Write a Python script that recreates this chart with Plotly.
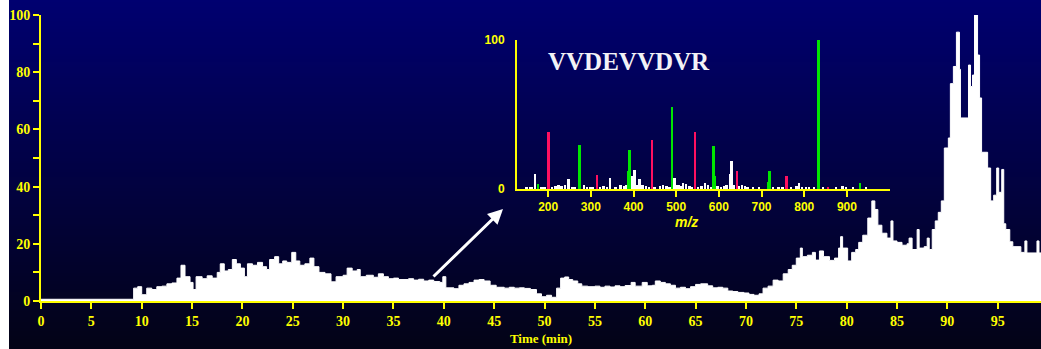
import base64
import struct
import zlib

import plotly.graph_objects as go

# ---------------- data: total ion chromatogram (step breakpoints) -------------
time_min = [0.0, 9.2, 9.6, 10.0, 10.5, 11.0, 11.5, 12.0, 12.5, 13.0, 13.5, 13.9, 14.3, 14.8,
            15.1, 15.4, 16.0, 16.5, 17.0, 17.5, 17.8, 18.2, 18.6, 19.0, 19.4, 19.8, 20.2,
            20.5, 21.0, 21.5, 22.0, 22.4, 22.7, 23.2, 23.6, 24.0, 24.4, 24.9, 25.3, 25.7,
            26.2, 26.7, 27.1, 27.6, 28.2, 28.8, 29.3, 30.0, 30.4, 30.9, 31.4, 31.7, 32.3,
            33.0, 33.5, 34.0, 34.5, 35.0, 35.5, 36.5, 37.0, 37.5, 38.0, 38.5, 39.0, 39.6,
            39.9, 40.2, 41.0, 41.5, 42.0, 42.5, 43.0, 43.5, 44.0, 44.6, 45.2, 46.0, 46.5,
            47.0, 47.5, 48.0, 48.6, 49.2, 49.7, 50.2, 50.7, 51.2, 51.6, 52.0, 52.4, 52.8,
            53.3, 53.7, 54.3, 55.0, 55.5, 56.0, 56.5, 57.0, 57.5, 58.0, 58.6, 59.0, 59.7,
            60.2, 60.7, 61.0, 61.5, 62.0, 62.5, 63.0, 63.5, 64.0, 64.5, 65.0, 65.5, 66.2,
            66.7, 67.2, 67.7, 68.2, 68.7, 69.2, 69.8, 70.3, 70.8, 71.3, 71.7, 72.2, 72.7,
            73.2, 73.7, 74.2, 74.6, 75.0, 75.4, 75.6, 76.1, 76.6, 76.9, 77.3, 77.7, 78.3,
            78.8, 79.2, 79.4, 79.6, 80.1, 80.5, 80.9, 81.2, 81.6, 82.1, 82.5, 82.8, 83.1,
            83.5, 84.0, 84.4, 84.6, 85.0, 85.5, 86.0, 86.2, 86.5, 87.0, 87.2, 87.7, 88.0,
            88.2, 88.5, 88.8, 89.1, 89.4, 89.7, 90.1, 90.3, 90.6, 90.9, 91.2, 91.3, 92.1,
            92.3, 92.5, 92.7, 93.0, 93.2, 93.4, 94.0, 94.3, 94.6, 94.9, 95.1, 95.4, 95.6,
            95.8, 96.2, 96.5, 97.3, 97.7, 97.9, 98.9, 99.1, 100.0]
intensity = [0.6, 4.5, 5.0, 2.2, 4.5, 4.0, 5.0, 5.2, 6.0, 6.3, 8.0, 12.5, 8.5, 6.5,
             4.0, 8.5, 7.8, 8.8, 8.0, 10.0, 13.0, 10.5, 11.0, 14.5, 13.0, 11.5, 8.5,
             13.0, 12.5, 13.5, 12.0, 11.0, 14.5, 15.5, 13.0, 14.0, 13.5, 17.0, 14.0, 12.5,
             13.0, 15.0, 12.0, 10.0, 9.5, 6.7, 8.5, 9.0, 11.5, 10.5, 11.0, 8.5, 9.0,
             8.3, 9.5, 8.5, 7.8, 8.0, 7.5, 7.8, 7.3, 7.6, 7.0, 7.3, 6.8, 6.5,
             8.5, 4.6, 4.3, 5.5, 6.0, 6.5, 7.3, 7.5, 7.0, 5.5, 4.8, 4.5, 4.8,
             4.5, 4.6, 4.4, 4.0, 2.5, 1.5, 2.0, 1.3, 4.5, 8.0, 8.4, 7.5, 7.0,
             6.0, 5.2, 5.0, 5.2, 4.8, 5.2, 4.9, 5.3, 5.0, 5.4, 6.5, 5.2, 6.5,
             5.3, 5.5, 7.0, 6.5, 6.0, 5.5, 4.5, 4.8, 4.3, 5.0, 5.8, 6.0, 5.3,
             4.6, 4.8, 4.5, 3.5, 3.3, 3.0, 2.8, 2.3, 2.0, 2.5, 4.5, 5.2, 7.3,
             7.0, 9.5, 11.0, 12.5, 15.0, 18.5, 15.5, 16.0, 17.0, 14.3, 17.5, 15.5, 14.2,
             15.0, 18.5, 22.5, 18.5, 14.0, 17.0, 18.0, 20.5, 23.0, 29.0, 35.0, 32.0, 26.5,
             23.7, 22.0, 28.0, 21.0, 20.5, 19.5, 20.0, 22.0, 18.0, 25.0, 18.5, 19.0, 22.0,
             18.0, 25.0, 28.0, 31.0, 35.0, 53.5, 57.0, 76.0, 82.0, 94.0, 81.0, 64.0, 82.5,
             75.0, 79.0, 100.0, 86.0, 71.0, 52.0, 46.5, 35.0, 37.0, 46.5, 38.0, 46.0, 27.0,
             25.0, 20.7, 19.0, 17.0, 21.0, 16.8, 21.0, 16.8, 16.8]

# ---------------- data: inset MS/MS spectrum ---------------------------------
peptide = "VVDEVVDVR"
ms_white_mz = [150, 158, 163, 170, 185, 192, 210, 218, 225, 232, 240, 248, 256, 262, 285,
               292, 300, 305, 322, 330, 338, 345, 358, 370, 378, 384, 393, 398, 403, 408,
               415, 422, 430, 437, 450, 462, 470, 478, 485, 497, 502, 507, 512, 517, 524,
               532, 538, 552, 560, 568, 575, 582, 597, 605, 612, 618, 626, 630, 636, 648,
               655, 662, 668, 680, 695, 728, 740, 750, 770, 782, 788, 795, 805, 812, 823,
               845, 875, 890, 898, 915, 946]
ms_white_int = [1.0, 1.5, 1.0, 10.0, 1.5, 1.0, 1.5, 2.0, 2.5, 2.0, 3.0, 6.7, 1.5, 1.0, 2.5,
                1.5, 1.0, 1.5, 1.0, 2.0, 1.5, 7.5, 1.5, 2.5, 2.0, 3.0, 11.0, 9.0, 12.5, 3.0,
                6.7, 2.5, 2.0, 1.5, 1.5, 2.0, 2.5, 2.0, 1.5, 7.4, 3.0, 2.5, 2.0, 3.8, 3.5,
                2.0, 1.5, 1.5, 2.0, 3.8, 2.5, 1.5, 2.0, 1.5, 2.0, 2.5, 10.0, 19.0, 3.0, 2.0,
                2.5, 2.0, 1.5, 1.0, 1.5, 1.5, 1.5, 1.2, 1.5, 2.0, 4.0, 1.5, 1.2, 1.0, 1.0,
                1.0, 1.0, 2.0, 1.0, 1.0, 1.5]
ms_green_mz = [176, 273, 387, 390, 490, 587, 591, 715, 718, 833, 931]
ms_green_int = [3.3, 29.5, 11.8, 26.0, 55.2, 28.6, 8.5, 4.8, 11.8, 100.0, 4.0]
ms_red_mz = [201, 314, 443, 544, 642, 759, 856]
ms_red_int = [38.5, 9.4, 33.0, 38.5, 11.8, 8.5, 1.5]

main_xticks = list(range(0, 100, 5))
main_yticks = list(range(0, 101, 10))
main_yticklabels = [str(v) if v % 20 == 0 else "" for v in main_yticks]
ms_xticks = list(range(200, 901, 100))
ms_yticks = [0, 100]

# ---------------- styling constants ------------------------------------------
W, H = 1041, 349
ML, MR, MT, MB = 41, 0, 15, 48
PW, PH = W - ML - MR, H - MT - MB
YEL = "#ffff00"
GREEN = "#00e600"
RED = "#ff1060"


def px_to_paper_x(px):
    return (px - ML) / PW


def px_to_paper_y(py):
    return (H - MB - py) / PH


def gradient_png(top, bottom, rows=128):
    raw = b""
    for i in range(rows):
        f = i / (rows - 1)
        c = bytes(round(top[k] + (bottom[k] - top[k]) * f) for k in range(3))
        raw += b"\x00" + c

    def chunk(tag, data):
        return (struct.pack(">I", len(data)) + tag + data +
                struct.pack(">I", zlib.crc32(tag + data) & 0xffffffff))
    png = b"\x89PNG\r\n\x1a\n"
    png += chunk(b"IHDR", struct.pack(">IIBBBBB", 1, rows, 8, 2, 0, 0, 0))
    png += chunk(b"IDAT", zlib.compress(raw))
    png += chunk(b"IEND", b"")
    return "data:image/png;base64," + base64.b64encode(png).decode()


fig = go.Figure()

fig.add_trace(go.Scatter(
    x=time_min, y=intensity, mode="lines", line=dict(color="white", width=1, shape="hv"),
    fill="tozeroy", fillcolor="white", xaxis="x", yaxis="y", hoverinfo="skip",
    showlegend=False))

fig.add_trace(go.Bar(x=ms_white_mz, y=ms_white_int, width=[4.5] * len(ms_white_mz),
                     marker=dict(color="white", line=dict(width=0)), xaxis="x2", yaxis="y2",
                     showlegend=False))
fig.add_trace(go.Bar(x=ms_green_mz, y=ms_green_int, width=[6] * len(ms_green_mz),
                     marker=dict(color=GREEN, line=dict(width=0)), xaxis="x2", yaxis="y2",
                     showlegend=False))
fig.add_trace(go.Bar(x=ms_red_mz, y=ms_red_int, width=[6] * len(ms_red_mz),
                     marker=dict(color=RED, line=dict(width=0)), xaxis="x2", yaxis="y2",
                     showlegend=False))

bg_image = dict(source=gradient_png((0, 0, 112), (3, 3, 22)), xref="paper", yref="paper",
                x=px_to_paper_x(9), y=px_to_paper_y(0),
                sizex=px_to_paper_x(W + 2) - px_to_paper_x(9),
                sizey=px_to_paper_y(0) - px_to_paper_y(H + 2),
                sizing="stretch", xanchor="left", yanchor="top", layer="below")

serif_tick = dict(family="Liberation Serif", size=14, color=YEL, weight="bold")
sans_tick = dict(family="Liberation Sans", size=12, color=YEL, weight="bold")

fig.update_layout(
    width=W, height=H, margin=dict(l=ML, r=MR, t=MT, b=MB),
    paper_bgcolor="white", plot_bgcolor="rgba(0,0,0,0)",
    images=[bg_image], bargap=0, barmode="overlay",
    xaxis=dict(range=[0, 99.3], showline=True, linecolor=YEL, linewidth=2,
               ticks="outside", ticklen=6, tickwidth=2, tickcolor=YEL,
               tickvals=main_xticks, tickfont=serif_tick, showgrid=False, zeroline=False,
               title=dict(text="Time (min)", standoff=6,
                          font=dict(family="Liberation Serif", size=13, color=YEL,
                                    weight="bold"))),
    yaxis=dict(range=[0, 100], showline=True, linecolor=YEL, linewidth=2,
               ticks="outside", ticklen=6, tickwidth=2, tickcolor=YEL,
               tickvals=main_yticks, ticktext=main_yticklabels, tickfont=serif_tick,
               showgrid=False, zeroline=False),
    xaxis2=dict(domain=[px_to_paper_x(517), px_to_paper_x(890)], anchor="y2",
                range=[127, 1001], showline=True, linecolor=YEL, linewidth=2,
                ticks="outside", ticklen=6, tickwidth=2, tickcolor=YEL,
                tickvals=ms_xticks, tickfont=sans_tick, showgrid=False, zeroline=False),
    yaxis2=dict(domain=[px_to_paper_y(189), px_to_paper_y(40)], anchor="x2",
                range=[0, 100], showline=True, linecolor=YEL, linewidth=2,
                ticks="", tickvals=ms_yticks, tickfont=sans_tick, ticklabelstandoff=8,
                showgrid=False, zeroline=False),
    annotations=[
        dict(text=peptide, xref="paper", yref="paper", x=px_to_paper_x(629),
             y=px_to_paper_y(61.5), showarrow=False, xanchor="center", yanchor="middle",
             font=dict(family="Liberation Serif", size=25, color="#f2f2f6", weight="bold")),
        dict(text="m/z", xref="paper", yref="paper", x=px_to_paper_x(686),
             y=px_to_paper_y(222), showarrow=False, xanchor="center", yanchor="middle",
             font=dict(family="Liberation Sans", size=14, color=YEL, weight="bold",
                       style="italic")),
        dict(text="", xref="paper", yref="paper", x=px_to_paper_x(503),
             y=px_to_paper_y(209), showarrow=True, arrowhead=2, arrowsize=1,
             arrowwidth=3, arrowcolor="white", ax=-71, ay=69),
    ],
)

fig.write_html("out.html")
